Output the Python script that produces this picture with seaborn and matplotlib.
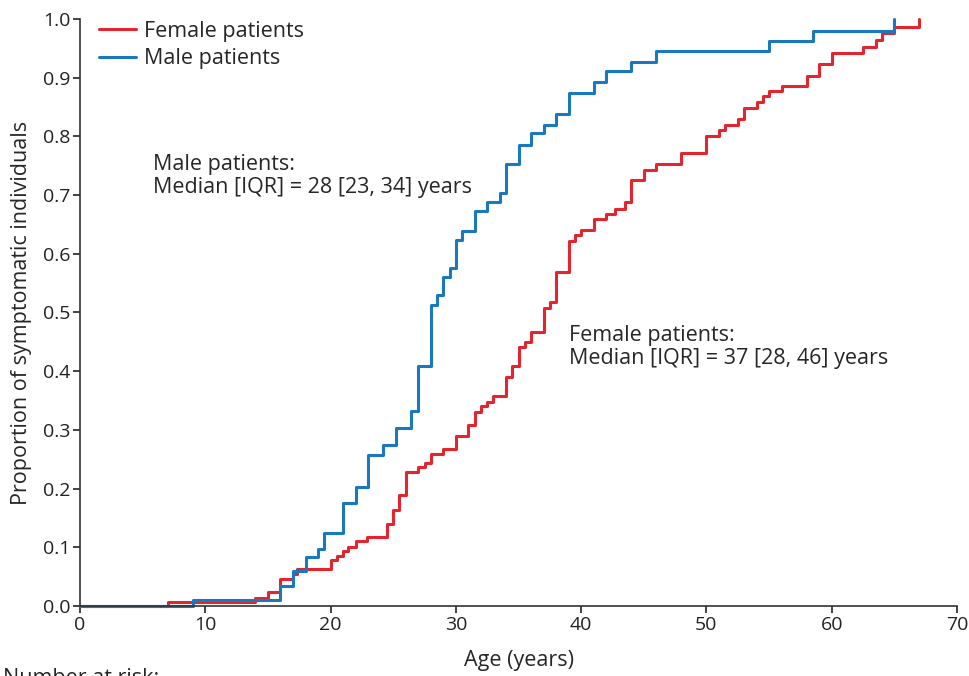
import matplotlib
matplotlib.use("Agg")
import matplotlib.pyplot as plt
import pandas as pd
import seaborn as sns

# Cumulative proportion of symptomatic individuals (step curve, value from age onward)
male_age = [0, 9, 16, 17, 18, 19, 19.5, 21, 22, 23, 24.2, 25.2, 26.4, 27, 28, 28.5, 29, 29.5,
            30, 30.5, 31.5, 32.5, 33.5, 34, 35, 36, 37, 38, 39, 41, 42, 44, 46, 55, 58.5, 65]
male_prop = [0.0, 0.011, 0.034, 0.060, 0.084, 0.097, 0.124, 0.175, 0.203, 0.258, 0.275, 0.303,
             0.333, 0.408, 0.513, 0.529, 0.560, 0.576, 0.623, 0.639, 0.673, 0.689, 0.704, 0.753,
             0.785, 0.805, 0.820, 0.838, 0.874, 0.893, 0.911, 0.927, 0.946, 0.962, 0.980, 1.0]

female_age = [0, 7, 14, 15, 16, 17, 17.3, 20, 20.5, 21, 21.4, 22, 22.9, 24.5, 25, 25.5, 26, 27,
              27.5, 28, 29, 30, 31, 31.5, 32, 32.5, 33, 34, 34.5, 35, 35.5, 36, 37, 37.5, 38, 39,
              39.5, 40, 41, 42, 42.7, 43.5, 44, 45, 46, 48, 50, 51, 51.5, 52.5, 53, 54, 54.5, 55,
              56, 58, 59, 60, 62.5, 63.5, 64, 65, 67]
female_prop = [0.0, 0.006, 0.014, 0.023, 0.046, 0.054, 0.063, 0.078, 0.085, 0.094, 0.101, 0.110,
               0.118, 0.139, 0.164, 0.189, 0.228, 0.237, 0.243, 0.259, 0.267, 0.290, 0.308, 0.331,
               0.341, 0.348, 0.357, 0.390, 0.409, 0.442, 0.450, 0.467, 0.508, 0.518, 0.569, 0.622,
               0.632, 0.641, 0.660, 0.668, 0.676, 0.688, 0.726, 0.743, 0.753, 0.772, 0.800, 0.811,
               0.820, 0.830, 0.848, 0.859, 0.868, 0.877, 0.885, 0.903, 0.924, 0.942, 0.953, 0.964,
               0.976, 0.987, 1.0]

series_names = ["Female patients", "Male patients"]
colors = {"Female patients": "#E3252F", "Male patients": "#1A78BE"}

x_ticks = [0, 10, 20, 30, 40, 50, 60, 70]
y_ticks = [0.0, 0.1, 0.2, 0.3, 0.4, 0.5, 0.6, 0.7, 0.8, 0.9, 1.0]

df = pd.concat([
    pd.DataFrame({"age": female_age, "prop": female_prop, "group": "Female patients"}),
    pd.DataFrame({"age": male_age, "prop": male_prop, "group": "Male patients"}),
])

sns.set_style("ticks")
plt.rcParams["font.family"] = ["Open Sans", "DejaVu Sans"]

fig = plt.figure(figsize=(9.7, 6.76), dpi=100)
ax = fig.add_axes([0.0825, 0.1036, 0.9041, 0.8683])

sns.lineplot(
    data=df, x="age", y="prop", hue="group", hue_order=series_names,
    palette=colors, estimator=None, sort=False, drawstyle="steps-post",
    linewidth=2.2, ax=ax, clip_on=False,
)

ax.set_xlim(0, 70)
ax.set_ylim(0, 1.0)
ax.set_xticks(x_ticks)
ax.set_yticks(y_ticks)
ax.set_yticklabels([f"{v:.1f}" for v in y_ticks])
ax.tick_params(labelsize=14, length=5, width=1.2, colors="#222222", pad=2)
for side in ["top", "right"]:
    ax.spines[side].set_visible(False)
for side in ["left", "bottom"]:
    ax.spines[side].set_linewidth(1.2)
    ax.spines[side].set_color("#333333")

ax.set_xlabel("Age (years)", fontsize=15.5, labelpad=12)
ax.set_ylabel("Proportion of symptomatic individuals", fontsize=15.5, labelpad=8)

ax.legend(title=None, frameon=False, loc="upper left", bbox_to_anchor=(-0.001, 1.03),
          fontsize=15.5, handlelength=1.75, handletextpad=0.35, labelspacing=0.3)

ax.text(5.8, 0.77, "Male patients:\nMedian [IQR] = 28 [23, 34] years",
        fontsize=15.5, va="top", ha="left", linespacing=1.1)
ax.text(39.0, 0.478, "Female patients:\nMedian [IQR] = 37 [28, 46] years",
        fontsize=15.5, va="top", ha="left", linespacing=1.1)

fig.text(0.003, 0.012, "Number at risk:", fontsize=15.5, va="top", ha="left")

fig.savefig("out.png", dpi=100)
